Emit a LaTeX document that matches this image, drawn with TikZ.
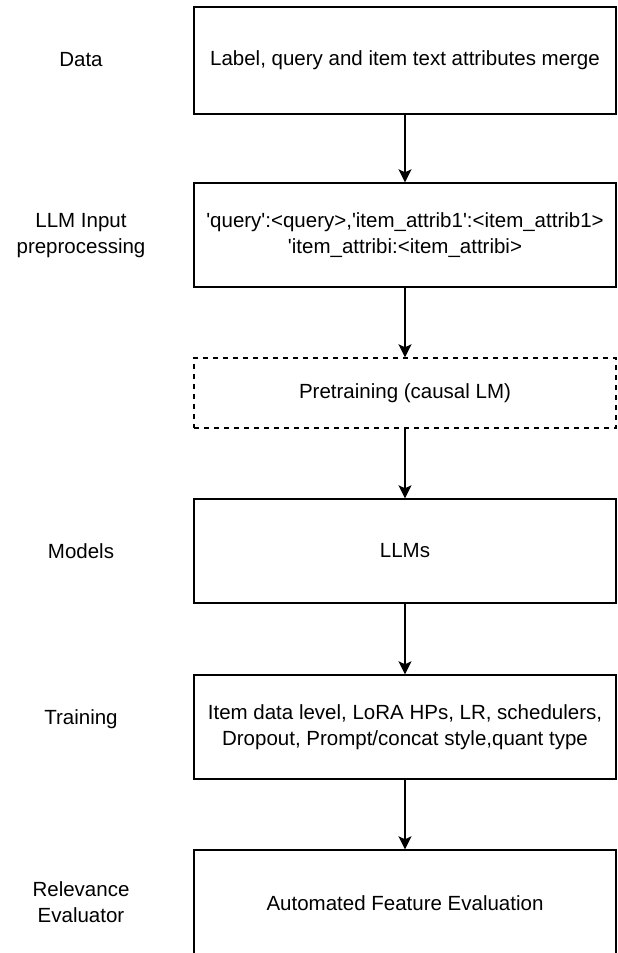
\documentclass[tikz,border=0pt]{standalone}
\usepackage{fontspec}
\setmainfont{Liberation Sans}[Ligatures=TeXOff]
\usetikzlibrary{arrows.meta}
\begin{document}
\begin{tikzpicture}[x=1pt,y=-1pt,
  box/.style={draw, line width=1.4pt, minimum width=422pt, inner sep=0pt, align=center,
    font=\fontsize{20.5}{25.5}\selectfont},
  dashbox/.style={box, dash pattern=on 5pt off 5pt},
  lab/.style={align=center, inner sep=0pt, font=\fontsize{20.5}{26}\selectfont},
  arr/.style={-{Stealth[length=13pt,width=13pt,inset=3pt]}, line width=1.4pt}]
\useasboundingbox (0,0) rectangle (618,953);
% left labels
\node[lab] (l1) at (81,60) {Data};
\node[lab] (l2) at (81,236) {LLM Input\\preprocessing};
\node[lab] (l4) at (81,551) {Models};
\node[lab] (l5) at (81,719) {Training};
\node[lab] (l6) at (81,902) {Relevance\\Evaluator};
% boxes
\node[box, minimum height=107pt] (b1) at (405,60.5) {Label, query and item text attributes merge};
\node[box, minimum height=104pt] (b2) at (405,235) {'query':<query>,'item\_attrib1':<item\_attrib1>\\'item\_attribi:<item\_attribi>};
\node[dashbox, minimum height=70pt] (b3) at (405,393) {Pretraining (causal LM)};
\node[box, minimum height=104pt] (b4) at (405,551) {LLMs};
\node[box, minimum height=104pt] (b5) at (405,727) {Item data level, LoRA HPs, LR, schedulers,\\Dropout, Prompt/concat style,quant type};
\node[box, minimum height=106pt] (b6) at (405,903) {Automated Feature Evaluation};
% connectors
\draw[arr] (b1) -- (b2);
\draw[arr] (b2) -- (b3);
\draw[arr] (b3) -- (b4);
\draw[arr] (b4) -- (b5);
\draw[arr] (b5) -- (b6);
\end{tikzpicture}
\end{document}
